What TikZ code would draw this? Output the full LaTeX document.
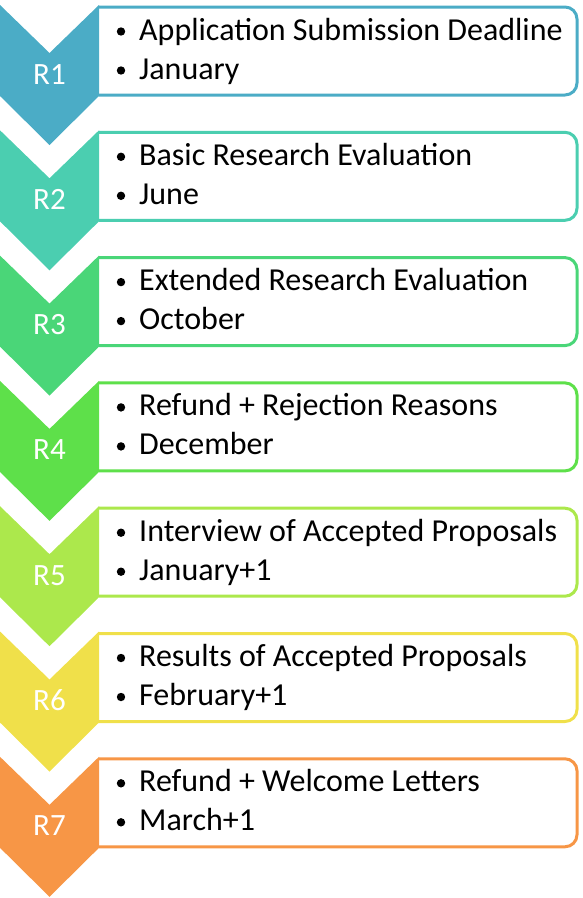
\documentclass[tikz,border=0pt]{standalone}
\usepackage{fontspec}
\setmainfont{Carlito}
\usetikzlibrary{positioning}

\definecolor{rone}{RGB}{75,172,198}
\definecolor{rtwo}{RGB}{75,206,176}
\definecolor{rthree}{RGB}{74,214,120}
\definecolor{rfour}{RGB}{94,224,74}
\definecolor{rfive}{RGB}{172,232,76}
\definecolor{rsix}{RGB}{240,224,74}
\definecolor{rseven}{RGB}{247,150,70}

\tikzset{
  stagebox/.style={line width=3pt, fill=white, rounded corners=12pt},
  tag/.style={text=white, anchor=base, inner sep=0pt, font=\fontsize{31}{37}\selectfont},
  item/.style={anchor=base west, inner sep=0pt, font=\fontsize{32}{38}\selectfont}
}

\begin{document}
\begin{tikzpicture}[x=1pt,y=-1pt]
    \useasboundingbox (0,0) rectangle (583,898);
    \foreach \i/\col/\one/\two in {
        1/rone/{Application Submission Deadline}/{January},
        2/rtwo/{Basic Research Evaluation}/{June},
        3/rthree/{Extended Research Evaluation}/{October},
        4/rfour/{Refund + Rejection Reasons}/{December},
        5/rfive/{Interview of Accepted Proposals}/{January+1},
        6/rsix/{Results of Accepted Proposals}/{February+1},
        7/rseven/{Refund + Welcome Letters}/{March+1}} {
      \pgfmathsetmacro\y{5+125.3*(\i-1)}
      % box on the right, chevron on top of its left end
      \draw[stagebox, draw=\col] (99,\y+2) -- (577,\y+2) -- (577,\y+90) -- (99,\y+90);
      \fill[\col] (0,\y) -- (49.5,\y+48) -- (99,\y) -- (99,\y+91)
                  -- (49.5,\y+140) -- (0,\y+91) -- cycle;
      \node[tag] (r\i) at (49.5,\y+79) {R\i};
      \fill (121,\y+26.5) circle (4.2);
      \fill (121,\y+65.5) circle (4.2);
      \node[item] (a\i) at (139,\y+35) {\one};
      \node[item] (b\i) at (139,\y+74) {\two};
    }
\end{tikzpicture}
\end{document}
